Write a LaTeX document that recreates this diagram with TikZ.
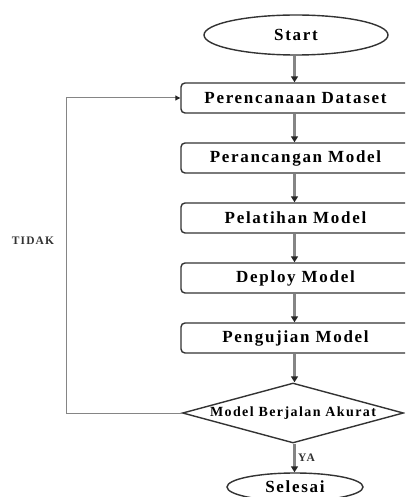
\documentclass[tikz,border=0pt]{standalone}
\usepackage{fontspec}
\setmainfont{Liberation Serif}[LetterSpace=10]
\usetikzlibrary{shapes.geometric,arrows.meta}
\definecolor{linec}{HTML}{333333}
\definecolor{conc}{HTML}{858585}
\tikzset{
  stepbox/.style={draw=linec, line width=1.4pt, rounded corners=4pt, minimum width=229pt, minimum height=30pt, inner sep=0pt, font=\fontsize{17}{19}\selectfont\bfseries},
  termbox/.style={draw=linec, line width=1.4pt, ellipse, inner sep=0pt, font=\fontsize{17}{19}\selectfont\bfseries},
  decbox/.style={draw=linec, line width=1.4pt, diamond, aspect=3.68, minimum width=221pt, minimum height=60pt, inner sep=0pt, font=\fontsize{14}{16}\selectfont\bfseries},
  flow/.style={draw=conc, line width=2.3pt, -{Triangle[length=6pt,width=7pt,fill=black!85,color=black!85]}},
  loopline/.style={draw=conc, line width=1pt, -{Triangle[length=5pt,width=5pt,fill=black!85,color=black!85]}},
  lbl/.style={font=\fontsize{11.5}{13}\selectfont\bfseries, text=black!80, inner sep=0pt}
}
\begin{document}
\begin{tikzpicture}[x=1pt,y=-1pt]
\useasboundingbox (0,0) rectangle (405,497);
\clip (0,0) rectangle (405,497);
\node[termbox, minimum width=184pt, minimum height=40pt] (start) at (296,35) {Start};
\node[stepbox] (b1) at (295.5,98) {Perencanaan Dataset};
\node[stepbox] (b2) at (295.5,158) {Perancangan Model};
\node[stepbox] (b3) at (295.5,218) {Pelatihan Model};
\node[stepbox] (b4) at (295.5,278) {Deploy Model};
\node[stepbox] (b5) at (295.5,338) {Pengujian Model};
\node[decbox] (dec) at (293,413) {Model Berjalan Akurat};
\node[termbox, minimum width=136pt, minimum height=28pt] (end) at (295,487) {Selesai};
\coordinate (c1) at (66,413);
\coordinate (c2) at (66,98);
\node[lbl] (tidak) at (33,241) {TIDAK};
\node[lbl, anchor=west] (ya) at (298,458) {YA};
\draw[flow] (start.south -| 294.5,0) -- (b1.north -| 294.5,0);
\draw[flow] (b1.south -| 294.5,0) -- (b2.north -| 294.5,0);
\draw[flow] (b2.south -| 294.5,0) -- (b3.north -| 294.5,0);
\draw[flow] (b3.south -| 294.5,0) -- (b4.north -| 294.5,0);
\draw[flow] (b4.south -| 294.5,0) -- (b5.north -| 294.5,0);
\draw[flow] (b5.south -| 294.5,0) -- (dec.north -| 294.5,0);
\draw[flow] (dec.south -| 294.5,0) -- (end.north -| 294.5,0);
\draw[loopline] (dec.west) -- (c1) -- (c2) -- (b1.west);
\end{tikzpicture}
\end{document}
